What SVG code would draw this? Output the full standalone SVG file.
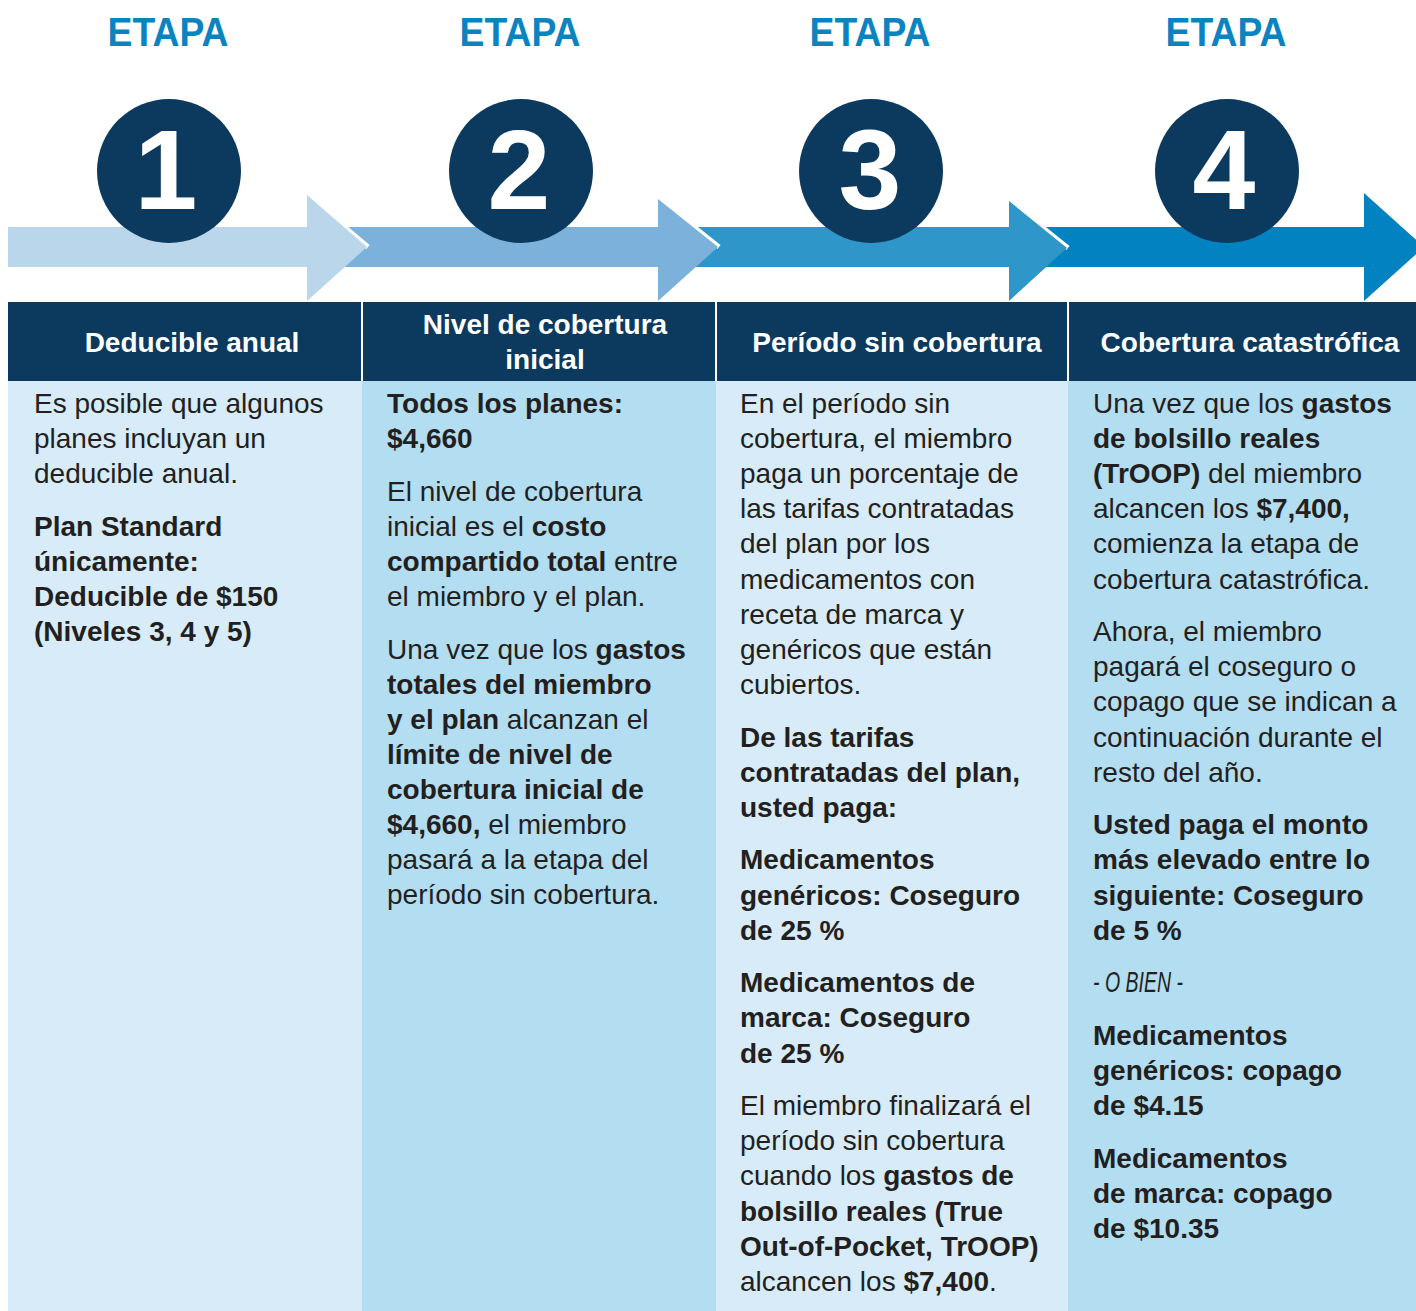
<svg xmlns="http://www.w3.org/2000/svg" width="1416" height="1311" viewBox="0 0 1416 1311">
<style>
  .etapa { font-family: "Liberation Sans", Arial, sans-serif; font-weight: bold; font-size: 41px; fill: #0a84c1; text-anchor: middle; }
  .num { font-family: "Liberation Sans", Arial, sans-serif; font-weight: bold; font-size: 113px; fill: #ffffff; text-anchor: middle; }
  .circ { fill: #0b3a5e; }
  .hdr { font-family: "Liberation Sans", Arial, sans-serif; font-weight: bold; font-size: 28px; fill: #ffffff; text-anchor: middle; }
  .body { font-family: "Liberation Sans", Arial, sans-serif; font-size: 28px; fill: #231f20; }
  .b { font-weight: bold; }
  .alt { font-family: "Liberation Sans", Arial, sans-serif; font-style: italic; font-size: 29px; fill: #231f20; }
  .light { fill: #d7ecf8; }
  .dark { fill: #b3ddf1; }
  .sep { stroke: #ffffff; stroke-width: 2; }
  .wl { stroke: #ffffff; stroke-width: 5; fill: none; }
</style>

<!-- column backgrounds -->
<rect class="light" x="8" y="381" width="354" height="930"/>
<rect class="dark" x="362" y="381" width="354" height="930"/>
<rect class="light" x="716" y="381" width="352" height="930"/>
<rect class="dark" x="1068" y="381" width="348" height="930"/>

<!-- connectors: arrows -->
<g id="connectors">
  <polygon fill="#0282c0" points="1020,227 1364,227 1364,193 1424,247 1364,301 1364,267 1020,267"/>
  <line class="wl" x1="1033" y1="220" x2="1068" y2="248"/>
  <polygon fill="#2e96c9" points="680,227 1009,227 1009,201 1067,248 1009,301 1009,267 680,267"/>
  <line class="wl" x1="685" y1="220" x2="719" y2="247"/>
  <polygon fill="#7bb1da" points="330,227 658,227 658,199 718,247 658,301 658,267 330,267"/>
  <line class="wl" x1="336" y1="220" x2="368" y2="247"/>
  <polygon fill="#bad6ea" points="8,227 307,227 307,195 367,247 307,301 307,267 8,267"/>
</g>

<!-- header bar -->
<rect x="8" y="302" width="1408" height="79" fill="#0b3a5e"/>
<line class="sep" x1="362" y1="302" x2="362" y2="381"/>
<line class="sep" x1="716" y1="302" x2="716" y2="381"/>
<line class="sep" x1="1068" y1="302" x2="1068" y2="381"/>

<g id="stage1">
  <text class="etapa" x="168" y="46" textLength="121" lengthAdjust="spacingAndGlyphs">ETAPA</text>
  <circle class="circ" cx="169" cy="171" r="72"/>
  <text class="num" x="166" y="209">1</text>
  <text class="hdr" x="192" y="352">Deducible anual</text>
  <text class="body" x="34" y="413">Es posible que algunos</text>
  <text class="body" x="34" y="448">planes incluyan un</text>
  <text class="body" x="34" y="483">deducible anual.</text>
  <text class="body b" x="34" y="536">Plan Standard</text>
  <text class="body b" x="34" y="571">únicamente:</text>
  <text class="body b" x="34" y="606">Deducible de $150</text>
  <text class="body b" x="34" y="641">(Niveles 3, 4 y 5)</text>
</g>

<g id="stage2">
  <text class="etapa" x="520" y="46" textLength="121" lengthAdjust="spacingAndGlyphs">ETAPA</text>
  <circle class="circ" cx="521" cy="171" r="72"/>
  <text class="num" x="519" y="209">2</text>
  <text class="hdr" x="545" y="334">Nivel de cobertura</text>
  <text class="hdr" x="545" y="369">inicial</text>
  <text class="body b" x="387" y="413">Todos los planes:</text>
  <text class="body b" x="387" y="448">$4,660</text>
  <text class="body" x="387" y="501">El nivel de cobertura</text>
  <text class="body" x="387" y="536">inicial es el <tspan class="b">costo</tspan></text>
  <text class="body" x="387" y="571"><tspan class="b">compartido total</tspan> entre</text>
  <text class="body" x="387" y="606">el miembro y el plan.</text>
  <text class="body" x="387" y="659">Una vez que los <tspan class="b">gastos</tspan></text>
  <text class="body b" x="387" y="694">totales del miembro</text>
  <text class="body" x="387" y="729"><tspan class="b">y el plan</tspan> alcanzan el</text>
  <text class="body b" x="387" y="764">límite de nivel de</text>
  <text class="body b" x="387" y="799">cobertura inicial de</text>
  <text class="body" x="387" y="834"><tspan class="b">$4,660,</tspan> el miembro</text>
  <text class="body" x="387" y="869">pasará a la etapa del</text>
  <text class="body" x="387" y="904">período sin cobertura.</text>
</g>

<g id="stage3">
  <text class="etapa" x="870" y="46" textLength="121" lengthAdjust="spacingAndGlyphs">ETAPA</text>
  <circle class="circ" cx="871" cy="171" r="72"/>
  <text class="num" x="870" y="209">3</text>
  <text class="hdr" x="897" y="352">Período sin cobertura</text>
  <text class="body" x="740" y="413">En el período sin</text>
  <text class="body" x="740" y="448">cobertura, el miembro</text>
  <text class="body" x="740" y="483">paga un porcentaje de</text>
  <text class="body" x="740" y="518">las tarifas contratadas</text>
  <text class="body" x="740" y="553">del plan por los</text>
  <text class="body" x="740" y="589">medicamentos con</text>
  <text class="body" x="740" y="624">receta de marca y</text>
  <text class="body" x="740" y="659">genéricos que están</text>
  <text class="body" x="740" y="694">cubiertos.</text>
  <text class="body b" x="740" y="747">De las tarifas</text>
  <text class="body b" x="740" y="782">contratadas del plan,</text>
  <text class="body b" x="740" y="817">usted paga:</text>
  <text class="body b" x="740" y="869">Medicamentos</text>
  <text class="body b" x="740" y="905">genéricos: Coseguro</text>
  <text class="body b" x="740" y="940">de 25 %</text>
  <text class="body b" x="740" y="992">Medicamentos de</text>
  <text class="body b" x="740" y="1027">marca: Coseguro</text>
  <text class="body b" x="740" y="1063">de 25 %</text>
  <text class="body" x="740" y="1115">El miembro finalizará el</text>
  <text class="body" x="740" y="1150">período sin cobertura</text>
  <text class="body" x="740" y="1185">cuando los <tspan class="b">gastos de</tspan></text>
  <text class="body b" x="740" y="1221">bolsillo reales (True</text>
  <text class="body b" x="740" y="1256">Out-of-Pocket, TrOOP)</text>
  <text class="body" x="740" y="1291">alcancen los <tspan class="b">$7,400</tspan>.</text>
</g>

<g id="stage4">
  <text class="etapa" x="1226" y="46" textLength="121" lengthAdjust="spacingAndGlyphs">ETAPA</text>
  <circle class="circ" cx="1227" cy="171" r="72"/>
  <text class="num" x="1224" y="209">4</text>
  <text class="hdr" x="1250" y="352">Cobertura catastrófica</text>
  <text class="body" x="1093" y="413">Una vez que los <tspan class="b">gastos</tspan></text>
  <text class="body b" x="1093" y="448">de bolsillo reales</text>
  <text class="body" x="1093" y="483"><tspan class="b">(TrOOP)</tspan> del miembro</text>
  <text class="body" x="1093" y="518">alcancen los <tspan class="b">$7,400,</tspan></text>
  <text class="body" x="1093" y="553">comienza la etapa de</text>
  <text class="body" x="1093" y="589">cobertura catastrófica.</text>
  <text class="body" x="1093" y="641">Ahora, el miembro</text>
  <text class="body" x="1093" y="676">pagará el coseguro o</text>
  <text class="body" x="1093" y="711">copago que se indican a</text>
  <text class="body" x="1093" y="747">continuación durante el</text>
  <text class="body" x="1093" y="782">resto del año.</text>
  <text class="body b" x="1093" y="834">Usted paga el monto</text>
  <text class="body b" x="1093" y="869">más elevado entre lo</text>
  <text class="body b" x="1093" y="905">siguiente: Coseguro</text>
  <text class="body b" x="1093" y="940">de 5 %</text>
  <text class="alt" x="1093" y="992" textLength="90" lengthAdjust="spacingAndGlyphs">- O BIEN -</text>
  <text class="body b" x="1093" y="1045">Medicamentos</text>
  <text class="body b" x="1093" y="1080">genéricos: copago</text>
  <text class="body b" x="1093" y="1115">de $4.15</text>
  <text class="body b" x="1093" y="1168">Medicamentos</text>
  <text class="body b" x="1093" y="1203">de marca: copago</text>
  <text class="body b" x="1093" y="1238">de $10.35</text>
</g>
</svg>
